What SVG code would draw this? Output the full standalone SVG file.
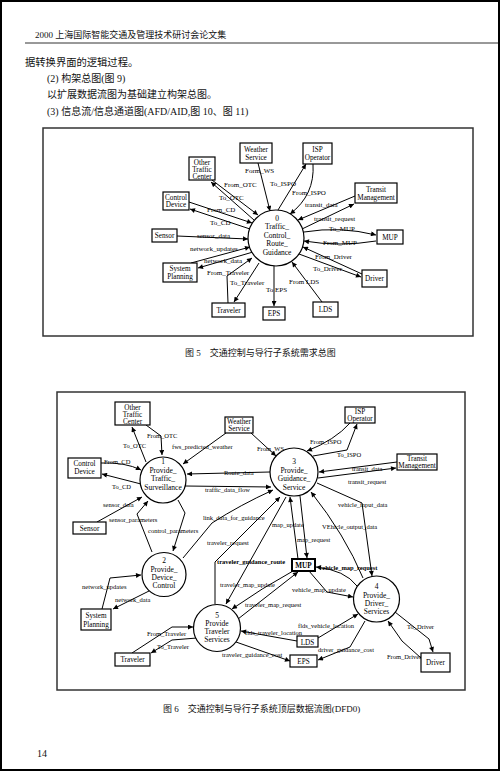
<svg xmlns="http://www.w3.org/2000/svg" width="500" height="771" viewBox="0 0 500 771">
<defs>
<marker id="a" viewBox="0 0 10 10" refX="10" refY="5" markerWidth="6" markerHeight="5" orient="auto" markerUnits="userSpaceOnUse"><path d="M0,0 L10,5 L0,10 z" fill="#000"/></marker>
</defs>
<style>
.pg{font-family:"Liberation Serif","Noto Sans CJK SC",serif;fill:#111}
.box{fill:#fff;stroke:#000;stroke-width:1.2}
.bold{stroke-width:2}
.cir{fill:#fff;stroke:#000;stroke-width:1.2}
.nt{font-family:"Liberation Serif",serif;font-size:7.2px;text-anchor:middle;fill:#000}
.ct{font-family:"Liberation Serif",serif;font-size:7.5px;text-anchor:middle;fill:#000}
.lb{font-family:"Liberation Serif",serif;font-size:7px;fill:#000}
.lb2{font-family:"Liberation Serif",serif;font-size:6.5px;fill:#000}
.b{font-weight:bold}
.cn path{fill:none;stroke:#000;stroke-width:1;marker-end:url(#a)}
.frame{fill:none;stroke:#333;stroke-width:1.5}
</style>
<rect x="0" y="0" width="500" height="771" fill="#fff"/>
<rect x="1" y="1" width="498" height="769" fill="none" stroke="#000" stroke-width="2"/>

<!-- page text -->
<text class="pg" x="35" y="38" font-size="9">2000 上海国际智能交通及管理技术研讨会论文集</text>
<line x1="25" y1="43" x2="498" y2="43" stroke="#333" stroke-width="1"/>
<text class="pg" x="25" y="66" font-size="10.3">据转换界面的逻辑过程。</text>
<text class="pg" x="47" y="82" font-size="10">(2) 构架总图(图 9)</text>
<text class="pg" x="47" y="98" font-size="10">以扩展数据流图为基础建立构架总图。</text>
<text class="pg" x="47" y="115" font-size="10">(3) 信息流/信息通道图(AFD/AID,图 10、图 11)</text>

<!-- Figure 5 -->
<rect class="frame" x="43" y="128" width="430" height="208"/>
<g id="fig5-connectors" class="cn">
<path d="M258,163 L270,211"/>
<path d="M278,210 L306,164"/>
<path d="M313,164 Q315,195 290,214"/>
<path d="M212,180 L258,215"/>
<path d="M254,220 L211,182"/>
<path d="M189,202 L252,223"/>
<path d="M250,229 L190,209"/>
<path d="M355,196 L298,220"/>
<path d="M302,229 L354,204"/>
<path d="M304,232 Q340,226 376,235"/>
<path d="M376,241 Q340,247 304,241"/>
<path d="M362,274 L303,247"/>
<path d="M299,254 L361,277"/>
<path d="M322,302 L292,262"/>
<path d="M274,266 L274,306"/>
<path d="M259,263 L234,302"/>
<path d="M228,303 L227,276 L252,258"/>
<path d="M177,236 L248,239"/>
<path d="M191,263 L250,247"/>
<path d="M253,252 L198,268"/>
</g>
<g id="fig5-labels" class="lb">
<text x="245" y="173">Form_WS</text>
<text x="224" y="187">From_OTC</text>
<text x="270" y="186">To_ISPO</text>
<text x="292" y="195">From_ISPO</text>
<text x="219" y="200">To_OTC</text>
<text x="305" y="207">transit_data</text>
<text x="207" y="212">From_CD</text>
<text x="314" y="221">transit_request</text>
<text x="210" y="225">To_CD</text>
<text x="329" y="231">To_MUP</text>
<text x="323" y="245">From_MUP</text>
<text x="197" y="238">sensor_data</text>
<text x="190" y="251">network_updates</text>
<text x="204" y="263">network_data</text>
<text x="315" y="259">From_Driver</text>
<text x="313" y="271">To_Driver</text>
<text x="207" y="275">From_Traveler</text>
<text x="230" y="285">To_Traveler</text>
<text x="289" y="284">From LDS</text>
<text x="266" y="292">To EPS</text>
</g>
<g id="n5-otc"><rect class="box" x="189" y="157" width="26" height="23"/><text class="nt" x="202" y="164.5">Other</text><text class="nt" x="202" y="171.5">Traffic</text><text class="nt" x="202" y="178.5">Center</text></g>
<g id="n5-ws"><rect class="box" x="240" y="143" width="32" height="20"/><text class="nt" x="256" y="151.5">Weather</text><text class="nt" x="256" y="159.5">Service</text></g>
<g id="n5-isp"><rect class="box" x="303" y="143" width="29" height="21"/><text class="nt" x="317.5" y="151.5">ISP</text><text class="nt" x="317.5" y="160">Operator</text></g>
<g id="n5-tm"><rect class="box" x="355" y="183" width="42" height="20"/><text class="nt" x="376" y="191.5">Transit</text><text class="nt" x="376" y="199.5">Management</text></g>
<g id="n5-cd"><rect class="box" x="163" y="192" width="26" height="18"/><text class="nt" x="176" y="199.5">Control</text><text class="nt" x="176" y="207">Device</text></g>
<g id="n5-sensor"><rect class="box" x="152" y="229" width="25" height="13"/><text class="nt" x="164.5" y="238">Sensor</text></g>
<g id="n5-mup"><rect class="box" x="377" y="230" width="26" height="14"/><text class="nt" x="390" y="239.5">MUP</text></g>
<g id="n5-sp"><rect class="box" x="163" y="263" width="34" height="19"/><text class="nt" x="180" y="271">System</text><text class="nt" x="180" y="279">Planning</text></g>
<g id="n5-driver"><rect class="box" x="362" y="270" width="25" height="17"/><text class="nt" x="374.5" y="281">Driver</text></g>
<g id="n5-traveler"><rect class="box" x="212" y="303" width="33" height="14"/><text class="nt" x="228.5" y="312.5">Traveler</text></g>
<g id="n5-eps"><rect class="box" x="263" y="307" width="22" height="13"/><text class="nt" x="274" y="316">EPS</text></g>
<g id="n5-lds"><rect class="box" x="313" y="302" width="25" height="15"/><text class="nt" x="325.5" y="312">LDS</text></g>
<g id="n5-p0"><circle class="cir" cx="276" cy="238" r="28"/><text class="ct" x="277" y="221">0</text><text class="ct" x="277" y="229">Traffic_</text><text class="ct" x="277" y="237.5">Control_</text><text class="ct" x="277" y="246">Route_</text><text class="ct" x="277" y="254.5">Guidance</text></g>
<text class="pg" x="185" y="356" font-size="9">图 5　交通控制与导行子系统需求总图</text>

<!-- Figure 6 -->
<rect class="frame" x="57" y="392" width="408" height="298"/>
<g id="fig6-connectors" class="cn">
<path d="M146,425 L161,436 L162,455"/>
<path d="M146,462 L132,427"/>
<path d="M226,433 L183,464"/>
<path d="M251,433 L276,456"/>
<path d="M270,472 L187,474"/>
<path d="M185,486 L271,487"/>
<path d="M350,423 Q335,440 307,451"/>
<path d="M313,456 L347,450 L357,424"/>
<path d="M397,462 L319,472"/>
<path d="M318,478 L396,468"/>
<path d="M101,463 Q125,462 141,470"/>
<path d="M141,484 L102,474"/>
<path d="M97,522 L142,497"/>
<path d="M152,552 L137,514 L148,501"/>
<path d="M178,500 L185,513 L173,551"/>
<path d="M183,558 L212,523 Q240,505 273,490"/>
<path d="M215,604 L215,562 L280,497"/>
<path d="M286,497 L226,604"/>
<path d="M293,571 Q262,588 232,609"/>
<path d="M238,619 L298,572"/>
<path d="M298,559 L290,497"/>
<path d="M300,496 L307,558"/>
<path d="M363,578 Q345,535 311,492"/>
<path d="M317,483 L362,503 L372,576"/>
<path d="M357,586 Q345,570 316,567"/>
<path d="M309,571 L327,592 L353,597"/>
<path d="M318,638 L358,614"/>
<path d="M297,641 L241,631"/>
<path d="M365,621 L350,647 L318,660"/>
<path d="M236,642 L290,661"/>
<path d="M395,612 L429,639 L433,652"/>
<path d="M421,658 L402,641 L388,621"/>
<path d="M132,653 L172,627 L193,627"/>
<path d="M197,638 L172,640 L151,653"/>
<path d="M102,609 L110,578 L141,575"/>
<path d="M149,591 L113,609"/>
</g>
<g id="fig6-labels" class="lb2">
<text x="147" y="438">From_OTC</text>
<text x="123" y="448">To_OTC</text>
<text x="172" y="449">fws_predicted_weather</text>
<text x="257" y="451">From_WS</text>
<text x="104" y="464">From_CD</text>
<text x="112" y="489">To_CD</text>
<text x="224" y="475">Route_data</text>
<text x="205" y="492">traffic_data_flow</text>
<text x="310" y="444">From_ISPO</text>
<text x="337" y="457">To_ISPO</text>
<text x="352" y="471">transit_data</text>
<text x="348" y="484">transit_request</text>
<text x="103" y="507">sensor_data</text>
<text x="109" y="522">sensor_parameters</text>
<text x="148" y="533">control_parameters</text>
<text x="203" y="520">link_data_for_guidance</text>
<text x="338" y="507">vehicle_input_data</text>
<text x="272" y="527">map_update</text>
<text x="322" y="529">VEhicle_output_data</text>
<text x="297" y="542">map_request</text>
<text x="207" y="545">traveler_request</text>
<text class="b" x="217" y="564">traveler_guidance_route</text>
<text class="b" x="319" y="570">vehicle_map_request</text>
<text x="220" y="587">traveler_map_update</text>
<text x="82" y="589">network_updates</text>
<text x="292" y="592">vehicle_map_update</text>
<text x="115" y="602">network_data</text>
<text x="245" y="607">traveler_map_request</text>
<text x="298" y="628">flds_vehicle_location</text>
<text x="407" y="629">To_Driver</text>
<text x="147" y="636">From_Traveler</text>
<text x="245" y="635">flds_traveler_location</text>
<text x="157" y="649">To_Traveler</text>
<text x="318" y="652">driver_guidance_cost</text>
<text x="222" y="657">traveler_guidance_cost</text>
<text x="387" y="659">From_Driver</text>
</g>
<g id="n6-otc"><rect class="box" x="115" y="402" width="35" height="23"/><text class="nt" x="132.5" y="409.5">Other</text><text class="nt" x="132.5" y="416.5">Traffic</text><text class="nt" x="132.5" y="423.5">Center</text></g>
<g id="n6-ws"><rect class="box" x="225" y="417" width="28" height="16"/><text class="nt" x="239" y="424">Weather</text><text class="nt" x="239" y="431">Service</text></g>
<g id="n6-isp"><rect class="box" x="345" y="407" width="30" height="16"/><text class="nt" x="360" y="414">ISP</text><text class="nt" x="360" y="421">Operator</text></g>
<g id="n6-tm"><rect class="box" x="397" y="454" width="40" height="16"/><text class="nt" x="417" y="461">Transit</text><text class="nt" x="417" y="468">Management</text></g>
<g id="n6-cd"><rect class="box" x="68" y="458" width="33" height="20"/><text class="nt" x="84.5" y="466">Control</text><text class="nt" x="84.5" y="474">Device</text></g>
<g id="n6-sensor"><rect class="box" x="73" y="522" width="33" height="12"/><text class="nt" x="89.5" y="531">Sensor</text></g>
<g id="n6-sp"><rect class="box" x="81" y="609" width="30" height="21"/><text class="nt" x="96" y="617.5">System</text><text class="nt" x="96" y="626.5">Planning</text></g>
<g id="n6-mup"><rect class="box bold" x="292" y="559" width="23" height="12"/><text class="nt b" x="303.5" y="568">MUP</text></g>
<g id="n6-traveler"><rect class="box" x="115" y="653" width="35" height="13"/><text class="nt" x="132.5" y="662">Traveler</text></g>
<g id="n6-lds"><rect class="box" x="297" y="636" width="21" height="11"/><text class="nt" x="307.5" y="644.5">LDS</text></g>
<g id="n6-eps"><rect class="box" x="290" y="655" width="27" height="12"/><text class="nt" x="303.5" y="664">EPS</text></g>
<g id="n6-driver"><rect class="box" x="421" y="653" width="29" height="19"/><text class="nt" x="435.5" y="665">Driver</text></g>
<g id="n6-p1"><circle class="cir" cx="163" cy="480" r="23"/><text class="ct" x="163" y="464">1</text><text class="ct" x="163" y="472.5">Provide_</text><text class="ct" x="163" y="480.5">Traffic_</text><text class="ct" x="163" y="489.5">Surveillance</text></g>
<g id="n6-p2"><circle class="cir" cx="164" cy="574.5" r="22"/><text class="ct" x="164" y="563">2</text><text class="ct" x="164" y="571.5">Provide_</text><text class="ct" x="164" y="579.5">Device_</text><text class="ct" x="164" y="588">Control</text></g>
<g id="n6-p3"><circle class="cir" cx="294" cy="472" r="24"/><text class="ct" x="294" y="464">3</text><text class="ct" x="294" y="472.5">Provide_</text><text class="ct" x="294" y="480.5">Guidance_</text><text class="ct" x="294" y="489.5">Service</text></g>
<g id="n6-p4"><circle class="cir" cx="376.5" cy="599" r="23"/><text class="ct" x="376.5" y="589">4</text><text class="ct" x="376.5" y="597.5">Provide_</text><text class="ct" x="376.5" y="605.5">Driver_</text><text class="ct" x="376.5" y="613.5">Services</text></g>
<g id="n6-p5"><circle class="cir" cx="217" cy="628" r="23.5"/><text class="ct" x="217" y="617.5">5</text><text class="ct" x="217" y="626">Provide</text><text class="ct" x="217" y="634">Traveler</text><text class="ct" x="217" y="642">Services</text></g>
<text class="pg" x="163" y="712" font-size="9">图 6　交通控制与导行子系统顶层数据流图(DFD0)</text>
<text class="pg" x="37" y="757" font-size="10">14</text>
</svg>
